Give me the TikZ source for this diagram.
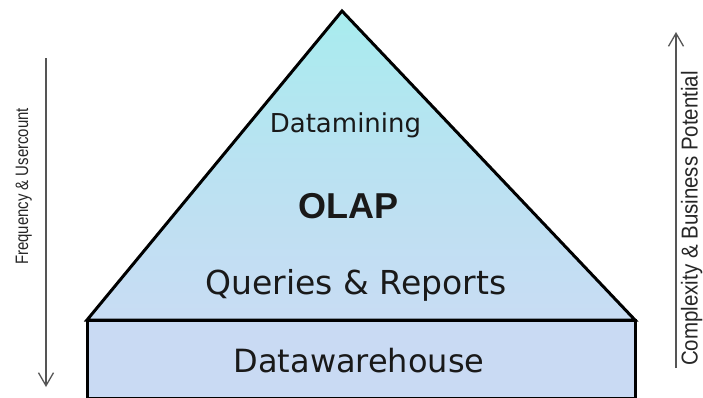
\documentclass[tikz,border=0pt]{standalone}
\usepackage{fontspec}
\setmainfont{DejaVu Sans}
\newfontfamily\arialike{Liberation Sans}
\usetikzlibrary{arrows.meta}

\definecolor{apexcyan}{RGB}{168,236,238}
\definecolor{midblue}{RGB}{186,226,242}
\definecolor{baseblue}{RGB}{200,220,243}
\definecolor{whboxblue}{RGB}{201,218,243}
\definecolor{axisgray}{RGB}{85,85,85}

\tikzset{
  layer/.style={draw=black, line width=3pt, line join=miter},
  levellabel/.style={anchor=base, inner sep=0pt, text=black!90},
  axisline/.style={draw=axisgray, line width=1.3pt,
    -{Straight Barb[length=13pt, width=15pt, line width=1.3pt]}},
  axislabel/.style={anchor=base, rotate=90, inner sep=0pt, text=black!85},
}

\begin{document}
\begin{tikzpicture}[x=1pt, y=-1pt]
  \useasboundingbox (0,0) rectangle (703,397);

  % corner points of the pyramid and the warehouse block
  \coordinate (apex) at (342,11);
  \coordinate (bl) at (87,320);
  \coordinate (br) at (635,320);
  \coordinate (wbl) at (87,398);
  \coordinate (wbr) at (635,398);

  % warehouse block
  \fill[whboxblue] (bl) rectangle (wbr);
  \draw[layer] (wbl) -- (bl) -- (br) -- (wbr) -- cycle;

  % pyramid with vertical shading
  \shade[top color=apexcyan, bottom color=baseblue, middle color=midblue]
    (apex) -- (br) -- (bl) -- cycle;
  \draw[layer] (apex) -- (br) -- (bl) -- cycle;

  % level labels
  \node[levellabel, font=\fontsize{26}{30}\selectfont] (dm) at (345.5,132) {Datamining};
  \node[levellabel, font=\arialike\bfseries\fontsize{36}{40}\selectfont] (olap) at (348,218) {OLAP};
  \node[levellabel, font=\fontsize{33}{38}\selectfont] (qr) at (356,294) {Queries \& Reports};
  \node[levellabel, font=\fontsize{32}{38}\selectfont] (dw) at (359,372) {Datawarehouse};

  % side axes with condensed labels
  \coordinate (ltop) at (46,58);
  \coordinate (lbot) at (46,387);
  \draw[axisline] (ltop) -- (lbot);
  \node[axislabel, font=\arialike\fontsize{18}{21}\selectfont] (freq) at (28,186.5)
    {\scalebox{0.83}[1]{Frequency \& Usercount}};

  \coordinate (rbot) at (676,368);
  \coordinate (rtop) at (676,32);
  \draw[axisline] (rbot) -- (rtop);
  \node[axislabel, font=\arialike\fontsize{23}{27}\selectfont] (cplx) at (697.5,218.5)
    {\scalebox{0.89}[1]{Complexity \& Business Potential}};
\end{tikzpicture}
\end{document}
